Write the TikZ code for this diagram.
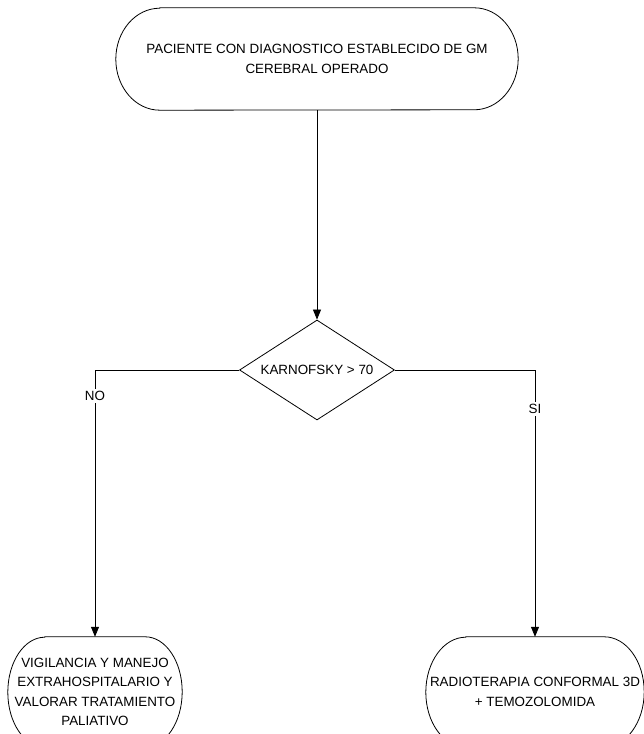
\documentclass[tikz,border=0pt]{standalone}
\usepackage{fontspec}
\setmainfont{Liberation Sans}
\usetikzlibrary{shapes.geometric,arrows.meta}
\tikzset{
  txt/.style={font=\fontsize{13.4}{19.5}\selectfont, align=center, inner sep=0pt},
  boxarea/.style={txt, rectangle, draw=none},
  decision/.style={txt, diamond, aspect=1.55, draw, line width=0.8pt, minimum width=155pt, minimum height=100pt},
  conn/.style={line width=0.8pt, -{Triangle[length=10pt,width=8pt]}},
  lbl/.style={txt, fill=white, inner sep=2pt}
}
\newcommand\termoutline[3]{%
  \draw[line width=0.8pt] ([xshift=#2]#1.north west) -- ([xshift=-#2]#1.north east)
    arc[start angle=90,end angle=-90,x radius=#2,y radius=#3]
    -- ([xshift=#2]#1.south west)
    arc[start angle=270,end angle=90,x radius=#2,y radius=#3] -- cycle;}
\begin{document}
\begin{tikzpicture}[x=1pt,y=1pt]
\useasboundingbox (0,0) rectangle (644,734);
\node[boxarea, minimum width=402pt, minimum height=102pt] (top) at (317,675)
  {PACIENTE CON DIAGNOSTICO ESTABLECIDO DE GM\\CEREBRAL OPERADO};
\termoutline{top}{44}{51}
\node[decision] (d) at (317,364) {KARNOFSKY > 70};
\node[boxarea, minimum width=174pt, minimum height=110pt] (left) at (95,42)
  {VIGILANCIA Y MANEJO\\EXTRAHOSPITALARIO Y\\VALORAR TRATAMIENTO\\PALIATIVO};
\termoutline{left}{37}{55}
\node[boxarea, minimum width=218pt, minimum height=110pt] (right) at (535,42)
  {RADIOTERAPIA CONFORMAL 3D\\+ TEMOZOLOMIDA};
\termoutline{right}{40}{55}
\draw[conn] (top.south) -- (d.north);
\draw[conn] (d.west) -| (left.north) node[lbl, pos=0.549] {NO};
\draw[conn] (d.east) -| (right.north) node[lbl, pos=0.573] {SI};
\end{tikzpicture}
\end{document}
